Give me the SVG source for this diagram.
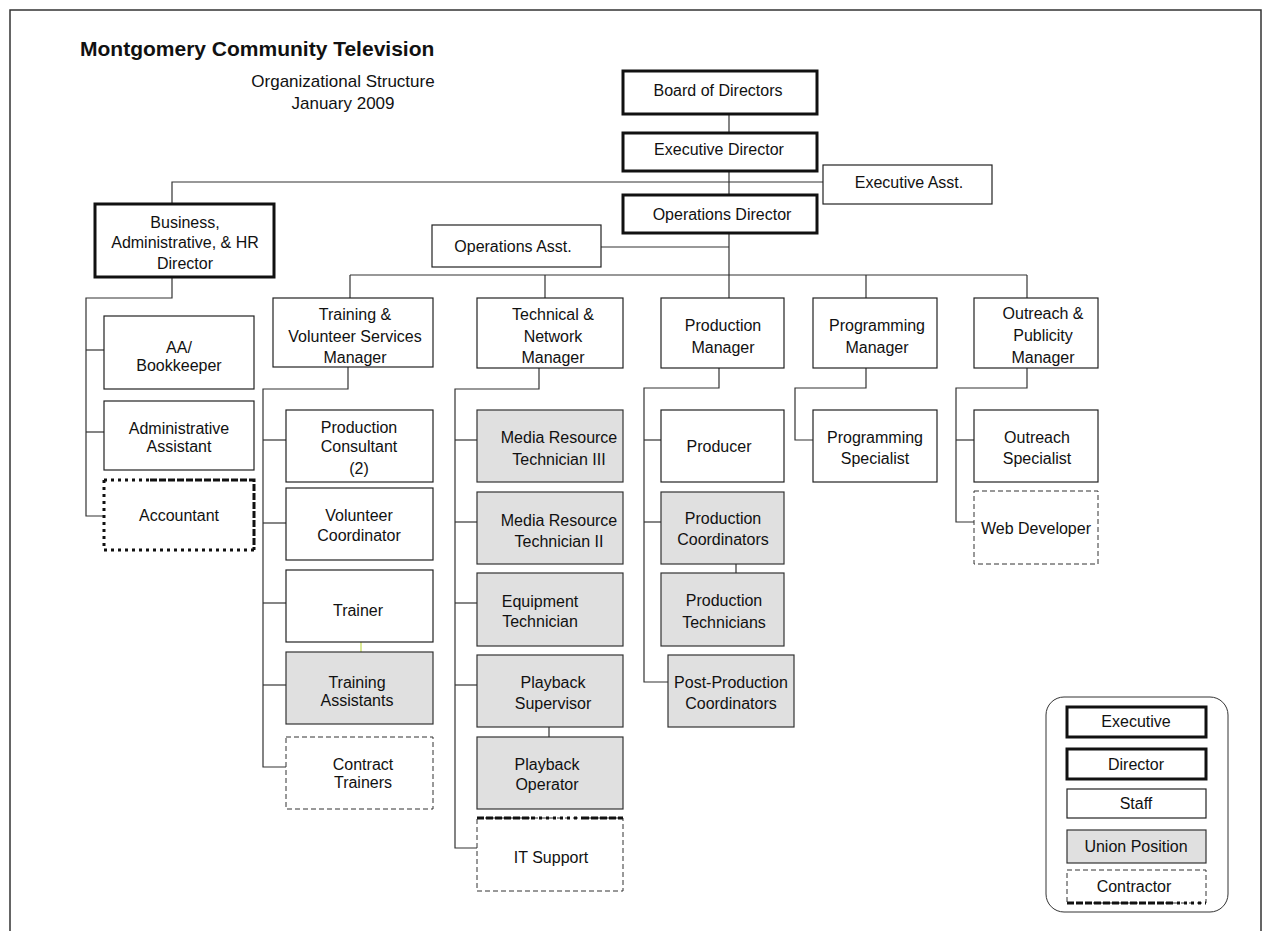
<svg xmlns="http://www.w3.org/2000/svg" width="1271" height="931" viewBox="0 0 1271 931">
<style>
text{font-family:"Liberation Sans",Arial,sans-serif;font-size:16px;fill:#111;text-anchor:middle}
.title{font-size:21px;font-weight:bold;text-anchor:start}
.sub{font-size:17px}
.exec{fill:#fff;stroke:#111;stroke-width:3}
.staff{fill:#fff;stroke:#222;stroke-width:1.2}
.union{fill:#e0e0e0;stroke:#333;stroke-width:1.2}
.contr{fill:#fff;stroke:#333;stroke-width:1;stroke-dasharray:5 3}
.heavyDash{fill:none;stroke:#111;stroke-width:3;stroke-dasharray:7 2}
.heavyDot{fill:none;stroke:#111;stroke-width:3;stroke-dasharray:3 4}
.conn line,.conn polyline{stroke:#333;stroke-width:1.2;fill:none}
</style>
<rect width="1271" height="931" fill="#fff"/>
<path d="M10,931 V10 H1261 V931" fill="none" stroke="#333" stroke-width="1.5"/>

<g id="title">
<text class="title" x="80" y="56">Montgomery Community Television</text>
<text class="sub" x="343" y="87">Organizational Structure</text>
<text class="sub" x="343" y="109">January 2009</text>
</g>

<g class="conn" id="connectors">
<line x1="729" y1="114" x2="729" y2="133"/>
<line x1="729" y1="171" x2="729" y2="195"/>
<polyline points="172,204 172,182 823,182"/>
<line x1="729" y1="233" x2="729" y2="298"/>
<line x1="601" y1="247" x2="729" y2="247"/>
<line x1="350" y1="275" x2="1027" y2="275"/>
<line x1="350" y1="275" x2="350" y2="298"/>
<line x1="545" y1="275" x2="545" y2="298"/>
<line x1="866" y1="275" x2="866" y2="298"/>
<line x1="1027" y1="275" x2="1027" y2="298"/>
<polyline points="172,277 172,298 86,298 86,516 104,516"/>
<line x1="86" y1="350" x2="104" y2="350"/>
<line x1="86" y1="432" x2="104" y2="432"/>
<polyline points="348,367 348,389 263,389 263,767 286,767"/>
<line x1="263" y1="440" x2="286" y2="440"/>
<line x1="263" y1="523" x2="286" y2="523"/>
<line x1="263" y1="603" x2="286" y2="603"/>
<line x1="263" y1="685" x2="286" y2="685"/>
<line x1="361" y1="642" x2="361" y2="652" style="stroke:#c4dc50"/>
<polyline points="539,368 539,389 455,389 455,848 477,848"/>
<line x1="455" y1="440" x2="477" y2="440"/>
<line x1="455" y1="522" x2="477" y2="522"/>
<line x1="455" y1="603" x2="477" y2="603"/>
<line x1="455" y1="685" x2="477" y2="685"/>
<line x1="549" y1="727" x2="549" y2="737"/>
<polyline points="719,368 719,388 644,388 644,682 668,682"/>
<line x1="644" y1="440" x2="661" y2="440"/>
<line x1="644" y1="522" x2="661" y2="522"/>
<line x1="736" y1="564" x2="736" y2="573"/>
<polyline points="866,368 866,388 795,388 795,440 813,440"/>
<polyline points="1027,368 1027,388 956,388 956,522 974,522"/>
<line x1="956" y1="440" x2="974" y2="440"/>
</g>

<g id="board"><rect class="exec" x="623" y="71" width="194" height="43"/><text x="718" y="96">Board of Directors</text></g>
<g id="exec-director"><rect class="exec" x="623" y="133" width="194" height="38"/><text x="719" y="155">Executive Director</text></g>
<g id="exec-asst"><rect class="staff" x="823" y="165" width="169" height="39"/><text x="909" y="188">Executive Asst.</text></g>
<g id="ops-director"><rect class="exec" x="623" y="195" width="194" height="38"/><text x="722" y="220">Operations Director</text></g>
<g id="ops-asst"><rect class="staff" x="432" y="225" width="169" height="42"/><text x="513" y="252">Operations Asst.</text></g>
<g id="business-director"><rect class="exec" x="95" y="204" width="179" height="73"/>
<text x="185" y="228">Business,</text><text x="185" y="248">Administrative,  &amp; HR</text><text x="185" y="269">Director</text></g>

<g id="aa-bookkeeper"><rect class="staff" x="104" y="316" width="150" height="73"/><text x="179" y="353">AA/</text><text x="179" y="371">Bookkeeper</text></g>
<g id="admin-assistant"><rect class="staff" x="104" y="401" width="150" height="69"/><text x="179" y="434">Administrative</text><text x="179" y="452">Assistant</text></g>
<g id="accountant"><rect x="104" y="480" width="150" height="70" fill="#fff"/>
<path class="heavyDot" d="M104,480 H150"/><path class="heavyDash" d="M150,480 H254 V550"/><path class="heavyDot" d="M104,480 V550 H254"/>
<text x="179" y="521">Accountant</text></g>

<g id="training-manager"><rect class="staff" x="273" y="298" width="160" height="69"/>
<text x="355" y="320">Training &amp;</text><text x="355" y="342">Volunteer Services</text><text x="355" y="363">Manager</text></g>
<g id="production-consultant"><rect class="staff" x="286" y="410" width="147" height="72"/><text x="359" y="433">Production</text><text x="359" y="452">Consultant</text><text x="359" y="474">(2)</text></g>
<g id="volunteer-coordinator"><rect class="staff" x="286" y="488" width="147" height="72"/><text x="359" y="521">Volunteer</text><text x="359" y="541">Coordinator</text></g>
<g id="trainer"><rect class="staff" x="286" y="570" width="147" height="72"/><text x="358" y="616">Trainer</text></g>
<g id="training-assistants"><rect class="union" x="286" y="652" width="147" height="72"/><text x="357" y="688">Training</text><text x="357" y="706">Assistants</text></g>
<g id="contract-trainers"><rect class="contr" x="286" y="737" width="147" height="72"/><text x="363" y="770">Contract</text><text x="363" y="788">Trainers</text></g>

<g id="technical-manager"><rect class="staff" x="477" y="298" width="146" height="70"/>
<text x="553" y="320">Technical &amp;</text><text x="553" y="342">Network</text><text x="553" y="363">Manager</text></g>
<g id="mrt3"><rect class="union" x="477" y="410" width="146" height="72"/><text x="559" y="443">Media Resource</text><text x="559" y="465">Technician III</text></g>
<g id="mrt2"><rect class="union" x="477" y="492" width="146" height="72"/><text x="559" y="526">Media Resource</text><text x="559" y="547">Technician II</text></g>
<g id="equipment-tech"><rect class="union" x="477" y="573" width="146" height="73"/><text x="540" y="607">Equipment</text><text x="540" y="627">Technician</text></g>
<g id="playback-supervisor"><rect class="union" x="477" y="655" width="146" height="72"/><text x="553" y="688">Playback</text><text x="553" y="709">Supervisor</text></g>
<g id="playback-operator"><rect class="union" x="477" y="737" width="146" height="72"/><text x="547" y="770">Playback</text><text x="547" y="790">Operator</text></g>
<g id="it-support"><rect class="contr" x="477" y="818" width="146" height="73"/>
<path class="heavyDash" d="M477,818 H532"/><path class="heavyDot" d="M532,818 H582"/><path class="heavyDash" d="M582,818 H623"/>
<text x="551" y="863">IT Support</text></g>

<g id="production-manager"><rect class="staff" x="661" y="298" width="123" height="70"/><text x="723" y="331">Production</text><text x="723" y="353">Manager</text></g>
<g id="producer"><rect class="staff" x="661" y="410" width="123" height="72"/><text x="719" y="452">Producer</text></g>
<g id="production-coordinators"><rect class="union" x="661" y="492" width="123" height="72"/><text x="723" y="524">Production</text><text x="723" y="545">Coordinators</text></g>
<g id="production-technicians"><rect class="union" x="661" y="573" width="123" height="73"/><text x="724" y="606">Production</text><text x="724" y="628">Technicians</text></g>
<g id="post-production"><rect class="union" x="668" y="655" width="126" height="72"/><text x="731" y="688">Post-Production</text><text x="731" y="709">Coordinators</text></g>

<g id="programming-manager"><rect class="staff" x="813" y="298" width="124" height="70"/><text x="877" y="331">Programming</text><text x="877" y="353">Manager</text></g>
<g id="programming-specialist"><rect class="staff" x="813" y="410" width="124" height="72"/><text x="875" y="443">Programming</text><text x="875" y="464">Specialist</text></g>

<g id="outreach-manager"><rect class="staff" x="974" y="298" width="124" height="70"/>
<text x="1043" y="319">Outreach &amp;</text><text x="1043" y="341">Publicity</text><text x="1043" y="363">Manager</text></g>
<g id="outreach-specialist"><rect class="staff" x="974" y="410" width="124" height="72"/><text x="1037" y="443">Outreach</text><text x="1037" y="464">Specialist</text></g>
<g id="web-developer"><rect class="contr" x="974" y="491" width="124" height="73"/><text x="1036" y="534">Web Developer</text></g>

<g id="legend">
<rect x="1046" y="697" width="182" height="215" rx="18" fill="#fff" stroke="#333" stroke-width="1"/>
<rect class="exec" x="1067" y="707" width="139" height="30"/><text x="1136" y="727">Executive</text>
<rect class="exec" x="1067" y="749" width="139" height="30"/><text x="1136" y="770">Director</text>
<rect class="staff" x="1067" y="789" width="139" height="29"/><text x="1136" y="809">Staff</text>
<rect class="union" x="1067" y="830" width="139" height="33"/><text x="1136" y="852">Union Position</text>
<rect class="contr" x="1067" y="870" width="139" height="33"/>
<path class="heavyDash" d="M1067,903 H1170"/><path class="heavyDot" d="M1170,903 H1206"/>
<text x="1134" y="892">Contractor</text>
</g>
</svg>
